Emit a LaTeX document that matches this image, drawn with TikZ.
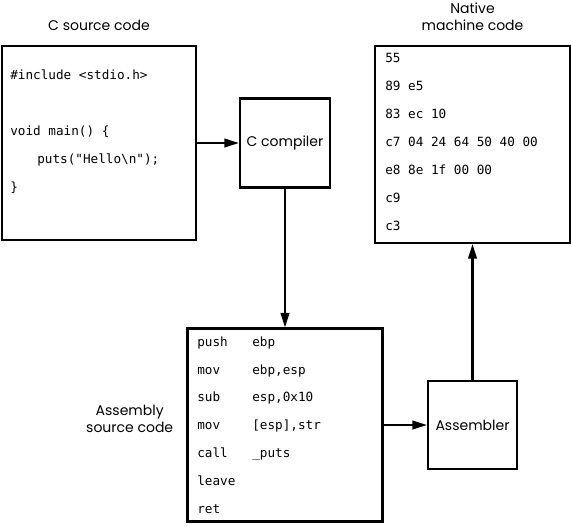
\documentclass[tikz,border=0pt]{standalone}
\usepackage{fontspec}
\newfontfamily\etiqfont{Poppins}
\newfontfamily\codigofont{DejaVu Sans Mono}
\usetikzlibrary{arrows.meta, positioning}

\begin{document}
\begin{tikzpicture}[
		% Estilos de cajas, textos y flechas
		caja/.style = {draw, line width=1.6pt, rectangle, inner sep=0pt},
		etiqueta/.style = {font=\etiqfont\fontsize{10.5}{12.8}\selectfont, align=center, inner sep=0pt},
		codigo/.style = {font=\codigofont\fontsize{9.5}{11}\selectfont, anchor=west, inner sep=0pt, text height=7pt, text depth=2pt},
		flecha/.style = {line width=1.6pt, -{Triangle[length=11pt, width=6.5pt]}},
		x=0.75pt, y=-0.75pt
		]
		\useasboundingbox (0,0) rectangle (571,525);
		
		% --- CAJAS PRINCIPALES ---
		\node [caja, minimum width=145.5pt, minimum height=145.5pt] (c_src) at (99,143) {};
		\node [caja, etiqueta, minimum width=67.5pt, minimum height=66.75pt] (c_comp) at (285,143) {C compiler};
		\node [caja, minimum width=146.25pt, minimum height=144.75pt] (asm_src) at (285,425) {};
		\node [caja, etiqueta, minimum width=66.75pt, minimum height=66pt] (ensamblador) at (472.5,425) {Assembler};
		\node [caja, minimum width=146.25pt, minimum height=147.75pt] (nativo) at (472.5,144.5) {};
		
		% --- TITULOS ---
		\node [etiqueta, above=10.5pt of c_src] (t_c_src) {C source code};
		\node [etiqueta, above=10.5pt of nativo] (t_nativo) {Native\\machine code};
		\node [etiqueta, left=9.75pt of asm_src, yshift=4.5pt] (t_asm) {Assembly\\source code};
		
		% --- CODIGO FUENTE EN C ---
		\node [codigo] (c_l1) at (10,76) {\#include <stdio.h>};
		\node [codigo] (c_l2) at (10,132) {void main() \{};
		\node [codigo] (c_l3) at (37,160) {puts("Hello\textbackslash n");};
		\node [codigo] (c_l4) at (10,188) {\}};
		
		% --- CODIGO ENSAMBLADOR ---
		\foreach \mnem/\oper [count=\i] in {push/ebp, mov/{ebp,esp}, sub/{esp,0x10}, mov/{[esp],str}, call/\_puts, leave/{}, ret/{}}
		\node [codigo] (asm_l\i) at (197,{343+27.83*(\i-1)}) {\makebox[41.25pt][l]{\mnem}\oper};
		
		% --- CODIGO MAQUINA ---
		\foreach \bytes [count=\i] in {55, 89 e5, 83 ec 10, c7 04 24 64 50 40 00, e8 8e 1f 00 00, c9, c3}
		\node [codigo] (mc_l\i) at (385,{59+28*(\i-1)}) {\bytes};
		
		% --- CONEXIONES ---
		\draw [flecha] (c_src) -- (c_comp);
		\draw [flecha] (c_comp) -- (asm_src);
		\draw [flecha] (asm_src) -- (ensamblador);
		\draw [flecha] (ensamblador) -- (nativo);
		
	\end{tikzpicture}
\end{document}
